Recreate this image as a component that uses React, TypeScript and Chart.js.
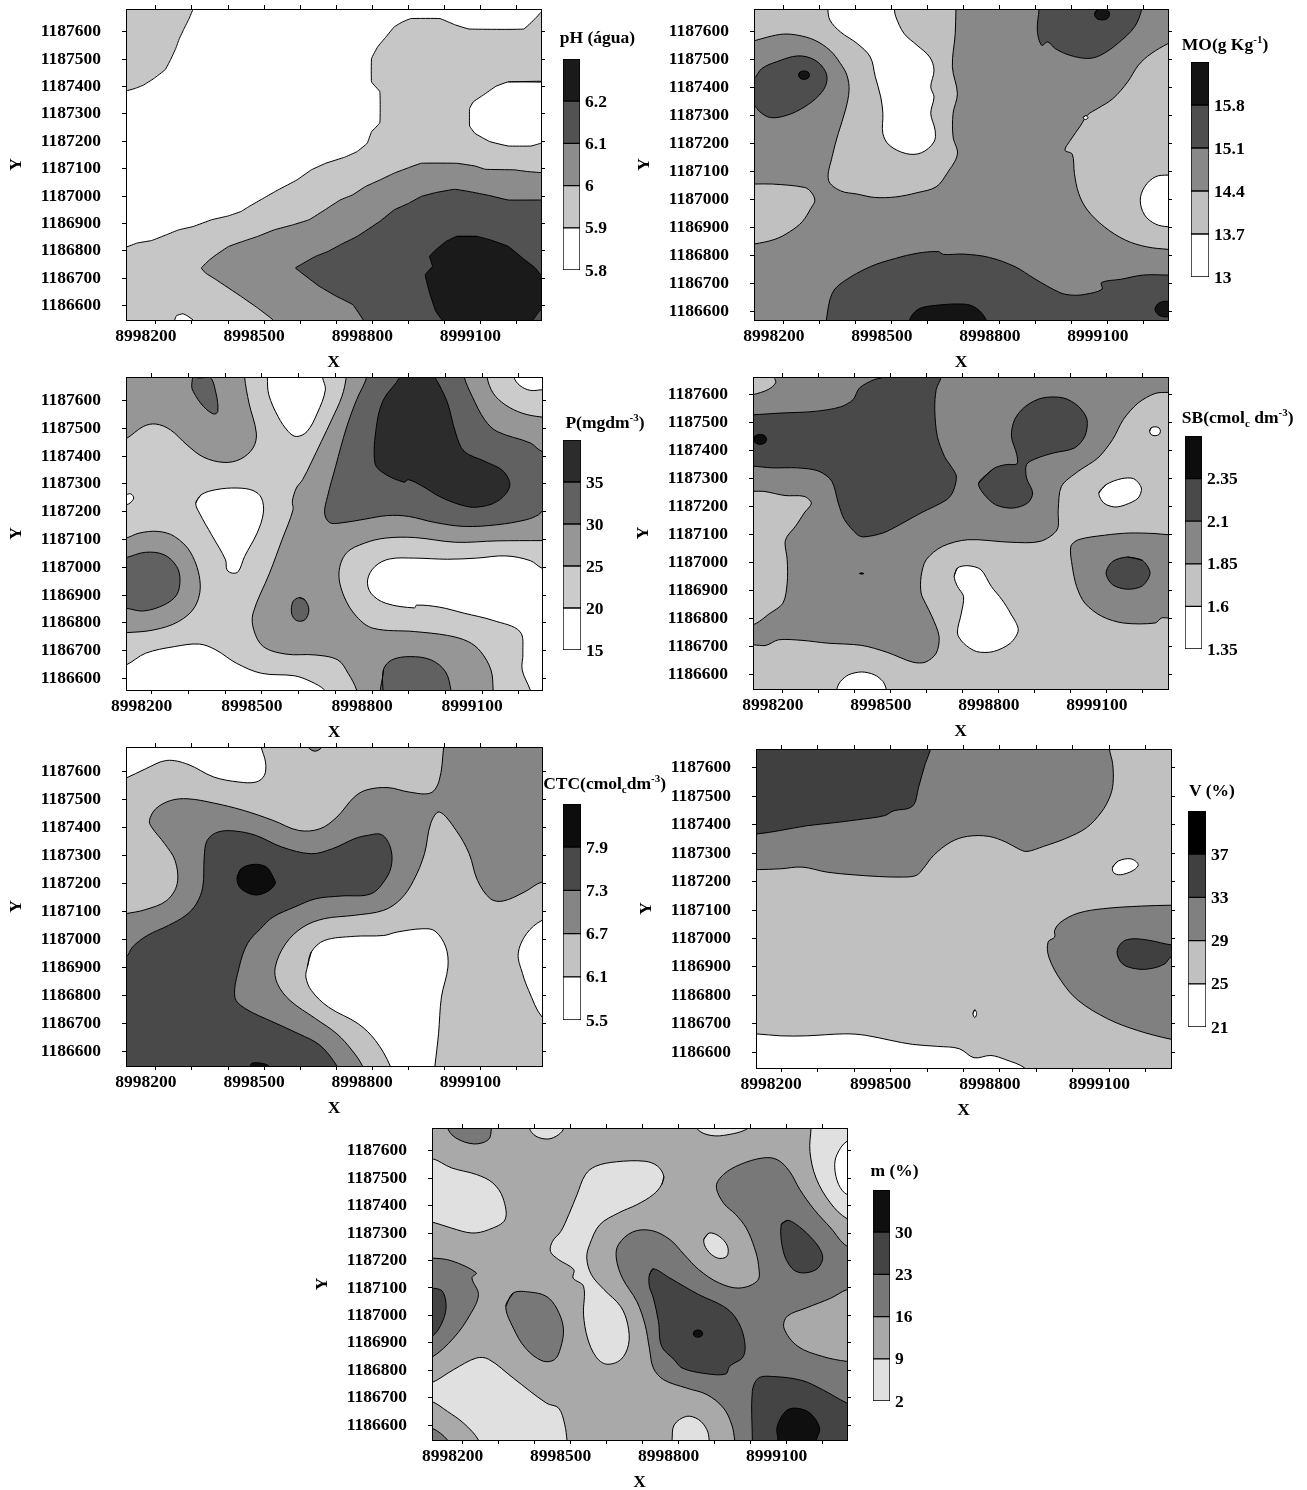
import React, { useEffect, useRef } from "react";
import { Chart, registerables } from "chart.js";
Chart.register(...registerables);

const XB = 8998000;
const YB = 1186000;
const xTickValues = [200, 300, 400, 500, 600, 700, 800, 900, 1000, 1100, 1200];
const xTickLabels = [8998200, 8998500, 8998800, 8999100];
const yTickValues = [600, 700, 800, 900, 1000, 1100, 1200, 1300, 1400, 1500, 1600];

// ---- pH ----
const phLevels = [5.8, 5.9, 6, 6.1, 6.2, 6.3];
const phGreys = ["#ffffff", "#c6c6c6", "#8c8c8c", "#525252", "#1a1a1a"];
const phShapes: [number, number[]][] = [
  [1, [60, 1378, 100, 1378, 142, 1393, 165, 1405, 194, 1429, 226, 1462, 240, 1496, 255, 1539, 265, 1575, 278, 1611, 292, 1648, 303, 1683, 306, 1720, 60, 1720]],
  [1, [60, 814, 117, 814, 148, 829, 188, 838, 229, 859, 263, 877, 303, 889, 355, 914, 401, 928, 436, 944, 458, 962, 499, 993, 539, 1023, 591, 1059, 631, 1096, 671, 1120, 723, 1142, 757, 1162, 786, 1193, 798, 1235, 821, 1268, 821, 1381, 798, 1417, 798, 1502, 815, 1545, 838, 1581, 861, 1618, 884, 1636, 907, 1648, 988, 1648, 1028, 1626, 1068, 1610, 1220, 1610, 1252, 1648, 1268, 1671, 1300, 1700, 1330, 1700, 1330, 500, 60, 500]],
  [0, [1330, 1415, 1177, 1417, 1143, 1401, 1108, 1369, 1080, 1344, 1070, 1320, 1070, 1256, 1085, 1229, 1126, 1199, 1177, 1183, 1241, 1183, 1268, 1193, 1330, 1200]],
  [0, [252, 530, 252, 548, 257, 564, 275, 571, 286, 564, 303, 548, 303, 530]],
  [2, [1330, 1086, 1268, 1086, 1229, 1090, 1194, 1096, 1114, 1098, 1085, 1110, 1034, 1120, 936, 1120, 901, 1104, 861, 1084, 821, 1059, 781, 1035, 746, 1005, 711, 986, 671, 952, 625, 914, 579, 895, 528, 877, 482, 853, 441, 835, 401, 816, 367, 786, 349, 768, 326, 738, 338, 719, 367, 695, 435, 635, 482, 592, 525, 548, 540, 500, 1330, 500]],
  [3, [1330, 986, 1268, 986, 1177, 986, 1126, 1002, 1068, 1017, 1028, 1025, 976, 1013, 936, 999, 901, 974, 861, 950, 821, 908, 758, 853, 712, 823, 677, 798, 642, 780, 602, 750, 587, 738, 598, 726, 653, 671, 700, 635, 746, 604, 775, 548, 790, 500, 1330, 500]],
  [4, [1034, 853, 1091, 853, 1126, 841, 1177, 817, 1217, 774, 1252, 738, 1268, 713, 1330, 680, 1330, 540, 1268, 586, 1246, 548, 1240, 520, 990, 520, 993, 548, 976, 580, 959, 647, 947, 713, 967, 744, 959, 780, 976, 804, 1005, 835]],
];

// ---- MO ----
const moLevels = [13, 13.7, 14.4, 15.1, 15.8, 16.5];
const moGreys = ["#ffffff", "#c0c0c0", "#888888", "#4e4e4e", "#141414"];
const moShapes: [number, number[]][] = [
  [1, [80, 1560, 117, 1568, 156, 1582, 198, 1592, 239, 1588, 286, 1570, 328, 1534, 357, 1487, 375, 1445, 381, 1391, 371, 1320, 351, 1236, 334, 1153, 324, 1069, 357, 1031, 404, 1019, 452, 1007, 511, 1009, 570, 1024, 623, 1045, 653, 1093, 682, 1162, 670, 1224, 670, 1308, 682, 1379, 668, 1475, 676, 1594, 678, 1682, 680, 1720, 80, 1720]],
  [0, [322, 1720, 322, 1682, 328, 1642, 357, 1600, 404, 1558, 440, 1510, 454, 1439, 469, 1367, 475, 1308, 475, 1236, 493, 1194, 540, 1164, 582, 1167, 617, 1206, 620, 1248, 608, 1308, 617, 1367, 608, 1403, 617, 1463, 605, 1510, 570, 1552, 534, 1594, 511, 1654, 507, 1682, 507, 1720]],
  [1, [80, 1055, 117, 1055, 168, 1055, 257, 1043, 275, 1027, 286, 997, 275, 968, 251, 920, 216, 884, 175, 857, 117, 840, 80, 835]],
  [1, [1320, 1590, 1267, 1558, 1220, 1522, 1185, 1481, 1155, 1421, 1114, 1361, 1072, 1326, 1043, 1302, 1025, 1266, 996, 1212, 981, 1176, 1001, 1162, 1007, 1093, 1019, 1021, 1043, 962, 1090, 902, 1149, 854, 1208, 830, 1267, 821, 1320, 815]],
  [0, [1320, 1087, 1267, 1087, 1232, 1081, 1202, 1045, 1190, 997, 1202, 944, 1232, 912, 1267, 902, 1320, 902]],
  [0, [1031, 1293, 1038, 1300, 1045, 1293, 1038, 1286]],
  [3, [909, 1720, 909, 1682, 904, 1606, 916, 1552, 933, 1564, 954, 1540, 995, 1516, 1044, 1505, 1079, 1516, 1127, 1558, 1174, 1618, 1194, 1682, 1194, 1720]],
  [3, [90, 1420, 117, 1433, 139, 1469, 180, 1493, 239, 1514, 286, 1499, 316, 1457, 318, 1415, 298, 1373, 257, 1331, 210, 1302, 163, 1293, 133, 1314, 117, 1337, 90, 1345]],
  [3, [318, 530, 318, 568, 334, 663, 365, 705, 440, 759, 511, 789, 570, 807, 629, 813, 643, 803, 700, 804, 771, 792, 842, 759, 895, 717, 967, 666, 1001, 657, 1037, 660, 1084, 678, 1082, 702, 1137, 714, 1198, 729, 1267, 729, 1320, 729, 1320, 530]],
  [4, [549, 530, 549, 568, 570, 604, 605, 618, 700, 625, 735, 610, 762, 568, 762, 530]],
  [4, [1063, 1663, 1069, 1678, 1084, 1683, 1099, 1678, 1105, 1663, 1099, 1648, 1084, 1643, 1069, 1648]],
  [4, [241, 1445, 245, 1456, 256, 1460, 267, 1456, 271, 1445, 267, 1434, 256, 1430, 245, 1434]],
  [4, [1231, 607, 1240, 627, 1261, 635, 1282, 627, 1291, 607, 1282, 587, 1261, 579, 1240, 587]],
];

// ---- P ----
const pLevels = [15, 20, 25, 30, 35, 40];
const pGreys = ["#ffffff", "#cbcbcb", "#969696", "#616161", "#2c2c2c"];
const pShapes: [number, number[]][] = [
  [0, [515, 1720, 515, 1684, 519, 1620, 544, 1542, 572, 1488, 594, 1470, 623, 1488, 651, 1554, 673, 1638, 665, 1684, 665, 1720]],
  [0, [320, 1231, 335, 1261, 375, 1279, 432, 1285, 476, 1276, 499, 1249, 504, 1195, 487, 1123, 453, 1039, 436, 985, 420, 979, 405, 991, 401, 1027, 363, 1117, 330, 1195]],
  [0, [110, 1261, 130, 1261, 143, 1264, 151, 1249, 141, 1231, 130, 1225, 110, 1225]],
  [0, [1186, 1720, 1186, 1684, 1203, 1653, 1231, 1636, 1263, 1638, 1300, 1638, 1300, 1720]],
  [0, [90, 640, 130, 649, 183, 691, 262, 715, 330, 724, 375, 703, 431, 655, 499, 619, 589, 610, 634, 589, 671, 559, 680, 530, 90, 530]],
  [0, [1310, 985, 1263, 997, 1231, 1024, 1164, 1041, 1085, 1033, 1006, 1029, 916, 1033, 848, 1030, 808, 1003, 788, 955, 797, 907, 837, 871, 916, 854, 921, 864, 983, 857, 1051, 835, 1130, 809, 1203, 769, 1211, 691, 1209, 631, 1231, 559, 1235, 530, 1310, 530]],
  [2, [100, 1450, 130, 1462, 177, 1506, 211, 1515, 251, 1494, 296, 1440, 341, 1396, 397, 1377, 442, 1389, 476, 1429, 485, 1482, 465, 1590, 453, 1684, 455, 1720, 100, 1720]],
  [2, [100, 1100, 130, 1105, 166, 1123, 217, 1129, 262, 1111, 307, 1051, 332, 943, 318, 859, 273, 805, 206, 775, 130, 765, 100, 765]],
  [2, [730, 1720, 730, 1684, 718, 1614, 690, 1530, 662, 1452, 634, 1375, 611, 1315, 594, 1285, 583, 1237, 585, 1207, 555, 1099, 521, 979, 476, 835, 478, 775, 504, 715, 566, 688, 645, 685, 707, 667, 735, 619, 758, 559, 760, 520, 1130, 520, 1130, 559, 1124, 631, 1096, 697, 1062, 733, 1006, 755, 916, 769, 803, 781, 758, 823, 724, 895, 710, 979, 730, 1051, 780, 1087, 837, 1105, 916, 1107, 1028, 1090, 1141, 1095, 1263, 1096, 1300, 1096, 1300, 1540, 1263, 1540, 1209, 1554, 1163, 1584, 1130, 1626, 1113, 1684, 1113, 1720]],
  [3, [318, 1720, 318, 1684, 358, 1684, 375, 1626, 380, 1560, 369, 1551, 341, 1578, 313, 1632, 309, 1656]],
  [3, [100, 1030, 130, 1035, 183, 1054, 234, 1045, 268, 1003, 277, 955, 268, 901, 234, 865, 177, 843, 130, 853, 100, 855]],
  [3, [602, 891, 617, 883, 628, 847, 617, 811, 594, 809, 581, 835, 585, 877]],
  [3, [786, 1720, 786, 1684, 758, 1602, 730, 1500, 701, 1363, 679, 1255, 671, 1195, 684, 1161, 713, 1159, 780, 1173, 842, 1186, 899, 1183, 972, 1161, 1051, 1147, 1141, 1153, 1220, 1171, 1254, 1189, 1263, 1201, 1300, 1210, 1300, 1420, 1263, 1417, 1231, 1447, 1141, 1488, 1107, 1530, 1073, 1614, 1051, 1684, 1051, 1720]],
  [3, [831, 530, 831, 631, 854, 667, 904, 679, 961, 667, 1000, 625, 1015, 559, 1015, 530]],
  [4, [876, 1720, 876, 1684, 831, 1602, 812, 1506, 808, 1375, 831, 1339, 887, 1306, 899, 1315, 938, 1291, 983, 1255, 1040, 1225, 1085, 1216, 1141, 1237, 1175, 1291, 1158, 1345, 1107, 1381, 1051, 1417, 1028, 1482, 1006, 1590, 983, 1656, 972, 1684, 972, 1720]],
];

// ---- SB ----
const sbLevels = [1.35, 1.6, 1.85, 2.1, 2.35, 2.6];
const sbGreys = ["#ffffff", "#c2c2c2", "#868686", "#494949", "#0d0d0d"];
const sbShapes: [number, number[]][] = [
  [1, [80, 1700, 176, 1700, 176, 1663, 180, 1642, 159, 1618, 117, 1600, 80, 1595]],
  [1, [80, 1254, 117, 1254, 147, 1254, 206, 1239, 259, 1236, 279, 1212, 259, 1176, 235, 1129, 212, 1093, 206, 1069, 212, 1009, 212, 926, 200, 854, 159, 813, 135, 789, 117, 777, 80, 770]],
  [1, [80, 705, 117, 705, 153, 703, 188, 723, 253, 721, 324, 711, 419, 703, 490, 678, 561, 643, 596, 643, 626, 675, 634, 735, 614, 807, 596, 854, 584, 890, 584, 950, 598, 1009, 643, 1057, 714, 1081, 832, 1072, 915, 1075, 962, 1117, 965, 1189, 974, 1272, 1021, 1326, 1075, 1373, 1116, 1439, 1146, 1511, 1187, 1570, 1234, 1604, 1270, 1608, 1310, 1608, 1310, 500, 80, 500]],
  [0, [350, 520, 350, 547, 360, 574, 383, 598, 419, 608, 454, 598, 478, 574, 487, 547, 487, 520]],
  [0, [676, 950, 685, 980, 714, 988, 750, 974, 779, 914, 809, 866, 832, 819, 854, 759, 832, 711, 785, 681, 738, 681, 702, 711, 685, 747, 696, 819, 702, 878, 685, 914]],
  [0, [1078, 1248, 1098, 1278, 1140, 1299, 1175, 1299, 1196, 1266, 1187, 1230, 1152, 1206, 1122, 1198, 1092, 1212]],
  [0, [1219, 1469, 1223, 1481, 1234, 1485, 1245, 1481, 1249, 1469, 1245, 1457, 1234, 1453, 1223, 1457]],
  [3, [80, 1528, 117, 1528, 194, 1534, 289, 1540, 360, 1556, 395, 1582, 413, 1624, 454, 1654, 478, 1663, 480, 1700, 640, 1700, 640, 1663, 626, 1618, 622, 1546, 629, 1451, 649, 1379, 667, 1344, 682, 1308, 673, 1254, 655, 1224, 584, 1177, 525, 1135, 478, 1105, 425, 1091, 407, 1099, 371, 1153, 354, 1212, 336, 1290, 300, 1326, 241, 1338, 170, 1338, 117, 1344, 80, 1344]],
  [3, [744, 1284, 785, 1335, 821, 1350, 850, 1352, 850, 1385, 835, 1451, 844, 1511, 874, 1558, 921, 1588, 980, 1588, 1021, 1558, 1045, 1511, 1039, 1451, 1010, 1409, 951, 1391, 903, 1371, 877, 1350, 877, 1302, 894, 1248, 880, 1212, 838, 1194, 791, 1206, 756, 1248]],
  [2, [1310, 1099, 1270, 1099, 1234, 1103, 1163, 1105, 1093, 1097, 1021, 1081, 1000, 1057, 1004, 986, 1016, 914, 1039, 854, 1086, 807, 1146, 783, 1234, 783, 1252, 801, 1270, 801, 1310, 801]],
  [3, [1157, 1019, 1199, 1007, 1220, 962, 1199, 916, 1157, 904, 1116, 920, 1098, 962, 1116, 1003]],
  [4, [119, 1440, 124, 1453, 137, 1458, 150, 1453, 155, 1440, 150, 1427, 137, 1422, 124, 1427]],
  [4, [413, 960, 419, 962, 425, 960, 419, 958]],
];

// ---- CTC ----
const ctcLevels = [5.5, 6.1, 6.7, 7.3, 7.9, 8.5];
const ctcGreys = ["#ffffff", "#c2c2c2", "#858585", "#494949", "#0d0d0d"];
const ctcShapes: [number, number[]][] = [
  [0, [80, 1560, 117, 1575, 171, 1608, 230, 1638, 289, 1624, 360, 1579, 430, 1561, 478, 1561, 501, 1585, 504, 1632, 492, 1686, 490, 1720, 80, 1720]],
  [0, [620, 900, 631, 954, 667, 995, 750, 1010, 832, 1013, 868, 1025, 939, 1037, 974, 1029, 1004, 972, 1010, 900, 992, 793, 984, 662, 974, 547, 972, 520, 848, 520, 850, 547, 809, 638, 761, 698, 679, 757, 631, 817, 616, 865]],
  [0, [1310, 1075, 1271, 1067, 1228, 1019, 1205, 948, 1217, 877, 1234, 817, 1271, 722, 1310, 700]],
  [2, [90, 1085, 117, 1091, 170, 1105, 230, 1138, 259, 1198, 253, 1281, 224, 1341, 188, 1400, 182, 1424, 200, 1466, 241, 1495, 289, 1501, 360, 1486, 442, 1460, 525, 1424, 596, 1388, 655, 1394, 702, 1436, 750, 1507, 785, 1533, 844, 1541, 903, 1525, 962, 1522, 986, 1567, 998, 1683, 1000, 1720, 1310, 1720, 1310, 1200, 1271, 1204, 1222, 1168, 1163, 1136, 1128, 1144, 1092, 1210, 1069, 1305, 1033, 1388, 986, 1454, 962, 1412, 945, 1305, 915, 1210, 880, 1144, 832, 1103, 750, 1085, 667, 1073, 608, 1043, 560, 984, 531, 900, 537, 841, 572, 781, 643, 716, 702, 662, 744, 603, 773, 547, 775, 520, 90, 520]],
  [2, [622, 1710, 622, 1686, 641, 1671, 661, 1686, 661, 1710]],
  [3, [80, 930, 117, 936, 135, 972, 176, 1013, 235, 1049, 283, 1085, 312, 1126, 330, 1186, 334, 1293, 342, 1352, 371, 1382, 419, 1386, 478, 1370, 549, 1329, 631, 1305, 690, 1323, 750, 1358, 785, 1370, 826, 1373, 850, 1329, 854, 1269, 838, 1216, 797, 1162, 714, 1154, 643, 1144, 584, 1114, 525, 1079, 490, 1037, 454, 984, 431, 900, 419, 793, 448, 752, 525, 704, 596, 662, 655, 621, 702, 547, 705, 520, 80, 520]],
  [4, [425, 1216, 436, 1251, 472, 1267, 507, 1257, 525, 1222, 531, 1198, 507, 1168, 474, 1158, 436, 1180]],
  [4, [462, 530, 462, 547, 466, 557, 492, 557, 513, 547, 513, 530]],
];

// ---- V ----
const vLevels = [21, 25, 29, 33, 37, 41];
const vGreys = ["#ffffff", "#c0c0c0", "#808080", "#404040", "#000000"];
const vShapes: [number, number[]][] = [
  [2, [90, 1242, 131, 1242, 199, 1245, 257, 1251, 327, 1233, 397, 1224, 467, 1218, 536, 1216, 571, 1222, 589, 1245, 618, 1292, 665, 1339, 711, 1359, 769, 1359, 816, 1339, 851, 1315, 874, 1306, 920, 1324, 979, 1351, 1037, 1389, 1078, 1444, 1101, 1497, 1110, 1544, 1109, 1614, 1100, 1666, 1100, 1700, 90, 1700]],
  [3, [90, 1367, 131, 1367, 199, 1380, 269, 1396, 339, 1406, 408, 1417, 484, 1432, 507, 1448, 560, 1465, 577, 1532, 595, 1614, 610, 1666, 612, 1700, 90, 1700]],
  [0, [1109, 1251, 1124, 1272, 1159, 1280, 1179, 1260, 1165, 1239, 1130, 1224, 1112, 1231]],
  [0, [726, 736, 731, 750, 736, 736, 731, 722]],
  [0, [90, 665, 131, 665, 199, 658, 269, 658, 374, 665, 431, 660, 501, 642, 560, 628, 629, 621, 688, 613, 729, 581, 775, 589, 816, 574, 868, 545, 870, 520, 90, 520]],
  [2, [1310, 1117, 1269, 1117, 1188, 1114, 1084, 1105, 1014, 1089, 967, 1058, 950, 1029, 950, 1005, 932, 988, 934, 935, 967, 853, 1014, 783, 1095, 718, 1177, 677, 1269, 646, 1310, 640]],
  [3, [1310, 978, 1269, 978, 1212, 993, 1165, 999, 1136, 988, 1121, 952, 1136, 911, 1171, 894, 1212, 894, 1252, 911, 1269, 935, 1310, 935]],
];

// ---- m ----
const mLevels = [2, 9, 16, 23, 30, 37];
const mGreys = ["#e0e0e0", "#a9a9a9", "#787878", "#444444", "#0f0f0f"];
const mWhite = "#ffffff";
const mShapes: [number, number[]][] = [
  [0, [1168, 1720, 1168, 1682, 1165, 1597, 1182, 1500, 1222, 1409, 1268, 1352, 1310, 1340, 1310, 1720]],
  [-1, [1300, 1634, 1268, 1634, 1240, 1585, 1234, 1537, 1245, 1476, 1268, 1440, 1300, 1440]],
  [0, [385, 1720, 385, 1682, 404, 1652, 438, 1642, 467, 1658, 481, 1682, 481, 1720]],
  [0, [850, 1720, 850, 1682, 879, 1658, 925, 1655, 994, 1682, 994, 1720]],
  [0, [80, 1565, 115, 1571, 169, 1537, 238, 1513, 284, 1482, 312, 1428, 318, 1349, 272, 1312, 226, 1300, 169, 1318, 115, 1340, 80, 1345]],
  [0, [80, 750, 115, 756, 175, 803, 238, 845, 272, 841, 341, 772, 433, 681, 467, 663, 484, 602, 490, 547, 492, 520, 240, 520, 244, 547, 203, 608, 158, 651, 115, 687, 80, 695]],
  [0, [759, 1506, 753, 1476, 730, 1440, 684, 1403, 633, 1373, 581, 1330, 553, 1258, 545, 1209, 558, 1148, 593, 1094, 639, 1033, 659, 966, 661, 894, 639, 839, 599, 823, 570, 851, 547, 918, 536, 1003, 536, 1106, 507, 1136, 509, 1167, 467, 1203, 444, 1233, 450, 1270, 473, 1306, 495, 1367, 518, 1440, 541, 1512, 570, 1543, 627, 1559, 707, 1561, 742, 1543]],
  [0, [870, 1276, 885, 1300, 913, 1288, 936, 1252, 934, 1215, 908, 1209, 879, 1239]],
  [0, [782, 520, 782, 547, 788, 602, 822, 633, 856, 621, 879, 584, 885, 547, 885, 520]],
  [2, [158, 1720, 158, 1682, 181, 1646, 232, 1624, 272, 1640, 280, 1682, 280, 1720]],
  [2, [80, 1209, 115, 1209, 169, 1199, 238, 1155, 226, 1136, 244, 1076, 221, 1003, 175, 918, 115, 848, 80, 840]],
  [2, [320, 1033, 341, 1082, 387, 1085, 432, 1070, 461, 1027, 480, 954, 472, 881, 455, 839, 421, 835, 375, 881, 341, 954]],
  [2, [80, 590, 115, 590, 158, 547, 160, 520, 80, 520]],
  [2, [1310, 1252, 1268, 1252, 1223, 1318, 1177, 1385, 1137, 1458, 1108, 1525, 1074, 1567, 1034, 1573, 971, 1549, 925, 1513, 905, 1470, 925, 1409, 959, 1367, 988, 1318, 1011, 1246, 1022, 1185, 1020, 1128, 971, 1100, 913, 1118, 856, 1167, 816, 1221, 776, 1276, 725, 1309, 673, 1304, 633, 1258, 627, 1209, 644, 1136, 684, 1051, 707, 966, 719, 881, 730, 809, 759, 766, 822, 736, 879, 712, 925, 663, 948, 602, 956, 547, 958, 520, 1310, 520, 1310, 833, 1268, 833, 1200, 851, 1131, 888, 1093, 954, 1102, 997, 1154, 1027, 1223, 1063, 1268, 1094, 1310, 1100]],
  [3, [1085, 1330, 1102, 1346, 1125, 1333, 1165, 1288, 1194, 1239, 1200, 1203, 1182, 1167, 1142, 1155, 1114, 1173, 1091, 1233]],
  [3, [719, 1148, 730, 1170, 776, 1136, 856, 1076, 925, 1033, 959, 991, 982, 918, 980, 851, 942, 815, 931, 787, 868, 790, 810, 809, 788, 839, 753, 888, 744, 979, 730, 1064, 719, 1106]],
  [3, [80, 1105, 115, 1100, 144, 1088, 154, 1027, 140, 966, 115, 924, 80, 915]],
  [3, [1005, 520, 1005, 547, 1005, 724, 1022, 772, 1062, 778, 1142, 764, 1200, 730, 1268, 681, 1310, 660, 1310, 520]],
  [4, [841, 934, 845, 944, 854, 947, 863, 944, 867, 934, 863, 924, 854, 921, 845, 924]],
  [4, [1076, 520, 1076, 547, 1074, 596, 1097, 651, 1125, 663, 1165, 645, 1192, 590, 1183, 547, 1183, 520]],
];

// ---- page layout (styles only) ----
type Box = [number, number, number, number];
interface PanelDef {
  plot: Box; bar: Box; xr: [number, number]; yr: [number, number];
  levels: number[]; greys: string[]; shapes: [number, number[]][];
  base: number; tension: number; title: React.ReactNode; tx: number; ty: number;
}
const FONT = "'Liberation Serif', 'Times New Roman', serif";
const S = { fontSize: 11, lineHeight: 0 } as React.CSSProperties;

const panels: PanelDef[] = [
  { plot: [126, 9, 541, 320], bar: [563, 59, 580, 270], xr: [117, 1268], yr: [548, 1683], levels: phLevels, greys: phGreys, shapes: phShapes, base: 0, tension: 0.08, title: "pH (água)", tx: 597.5, ty: 37 },
  { plot: [754, 9, 1168, 320], bar: [1191, 62, 1209, 277], xr: [117, 1267], yr: [568, 1682], levels: moLevels, greys: moGreys, shapes: moShapes, base: 2, tension: 0.35, title: <>MO(g Kg<sup style={S}>-1</sup>)</>, tx: 1225, ty: 44 },
  { plot: [126, 377, 542, 690], bar: [563, 440, 581, 650], xr: [130, 1263], yr: [559, 1684], levels: pLevels, greys: pGreys, shapes: pShapes, base: 1, tension: 0.35, title: <>P(mgdm<sup style={S}>-3</sup>)</>, tx: 605, ty: 422 },
  { plot: [753, 377, 1168, 689], bar: [1185, 436, 1202, 649], xr: [117, 1270], yr: [547, 1663], levels: sbLevels, greys: sbGreys, shapes: sbShapes, base: 2, tension: 0.3, title: <>SB(cmol<sub style={S}>c</sub> dm<sup style={S}>-3</sup>)</>, tx: 1237.7, ty: 416.7 },
  { plot: [126, 747, 542, 1066], bar: [563, 804, 581, 1020], xr: [117, 1271], yr: [547, 1686], levels: ctcLevels, greys: ctcGreys, shapes: ctcShapes, base: 1, tension: 0.35, title: <>CTC(cmol<sub style={S}>c</sub>dm<sup style={S}>-3</sup>)</>, tx: 604.6, ty: 783 },
  { plot: [756, 749, 1171, 1068], bar: [1188, 811, 1206, 1027], xr: [131, 1269], yr: [545, 1666], levels: vLevels, greys: vGreys, shapes: vShapes, base: 1, tension: 0.35, title: "V (%)", tx: 1212, ty: 790 },
  { plot: [432, 1128, 847, 1440], bar: [873, 1190, 890, 1401], xr: [115, 1268], yr: [547, 1682], levels: mLevels, greys: mGreys, shapes: mShapes, base: 1, tension: 0.35, title: "m (%)", tx: 894.5, ty: 1170 },
];

const LEFT = 122, TOP = 32, RIGHT = 8, BOTTOM = 56, BARPAD = 16;
const tickFont = { family: FONT, size: 17.5, weight: "bold" as const };

function closed(a: number[]) {
  const p: { x: number; y: number }[] = [];
  for (let i = 0; i + 1 < a.length; i += 2) p.push({ x: XB + a[i], y: YB + a[i + 1] });
  return [...p, p[0], p[1]];
}

function Panel({ d }: { d: PanelDef }) {
  const mainRef = useRef<HTMLCanvasElement>(null);
  const barRef = useRef<HTMLCanvasElement>(null);
  const [l, t, r, b] = d.plot;
  const [bl, bt, br, bb] = d.bar;
  useEffect(() => {
    const xmin = XB + d.xr[0], xmax = XB + d.xr[1], ymin = YB + d.yr[0], ymax = YB + d.yr[1];
    const xt = () => xTickValues.map((v) => ({ value: XB + v }));
    const yt = () => yTickValues.map((v) => ({ value: YB + v }));
    const marks = { display: true, drawOnChartArea: false, drawTicks: true, tickLength: 4, color: "#000", tickWidth: 1, z: 1 };
    const frame = { display: true, color: "#000", width: 1, z: 1 };
    const painted = [
      { data: closed([d.xr[0] - 50, d.yr[0] - 50, d.xr[1] + 50, d.yr[0] - 50, d.xr[1] + 50, d.yr[1] + 50, d.xr[0] - 50, d.yr[1] + 50]), backgroundColor: d.greys[d.base], borderWidth: 0, tension: 0 },
      ...d.shapes.map(([lev, pts]) => ({
        data: closed(pts),
        backgroundColor: lev < 0 ? mWhite : d.greys[lev],
        borderColor: "#000",
        borderWidth: 1,
        tension: d.tension,
      })),
    ].map((s) => ({ ...s, showLine: true, fill: "shape", pointRadius: 0, pointHoverRadius: 0 }));
    const main = new Chart(mainRef.current!, {
      type: "scatter",
      data: { datasets: painted.reverse() as any },
      options: {
        animation: false, responsive: false, events: [],
        layout: { padding: 0 },
        plugins: { legend: { display: false }, tooltip: { enabled: false } },
        scales: {
          x: {
            type: "linear", position: "bottom", min: xmin, max: xmax, grid: marks, border: frame,
            afterBuildTicks: (s: any) => { s.ticks = xt(); },
            afterFit: (s: any) => { s.height = BOTTOM; },
            ticks: {
              autoSkip: false, maxRotation: 0, minRotation: 0, padding: 2, labelOffset: -10, color: "#000", font: tickFont,
              callback: (v: any) => (xTickLabels.includes(Number(v)) ? String(v) : ""),
            },
            title: { display: true, text: "X", color: "#000", font: tickFont, padding: { top: 0, bottom: 3 } },
          },
          y: {
            type: "linear", position: "left", min: ymin, max: ymax, grid: marks, border: frame,
            afterBuildTicks: (s: any) => { s.ticks = yt(); },
            afterFit: (s: any) => { s.width = LEFT; },
            ticks: { autoSkip: false, padding: 21, color: "#000", font: tickFont, callback: (v: any) => String(v) },
            title: { display: true, text: "Y", color: "#000", font: tickFont, padding: { top: 2, bottom: 0 } },
          },
          x2: {
            type: "linear", axis: "x", position: "top", min: xmin, max: xmax, grid: marks, border: frame,
            afterBuildTicks: (s: any) => { s.ticks = xt(); },
            afterFit: (s: any) => { s.height = TOP; },
            ticks: { display: false },
          },
          y2: {
            type: "linear", axis: "y", position: "right", min: ymin, max: ymax, grid: marks, border: frame,
            afterBuildTicks: (s: any) => { s.ticks = yt(); },
            afterFit: (s: any) => { s.width = RIGHT; },
            ticks: { display: false },
          },
        } as any,
      },
    });
    const bands = d.greys.map((g, i) => ({
      data: [[d.levels[i], d.levels[i + 1]]],
      backgroundColor: g, borderColor: "#000", borderWidth: 1, borderSkipped: false, stack: "scale",
      barPercentage: 1, categoryPercentage: 1,
    }));
    const bar = new Chart(barRef.current!, {
      type: "bar",
      data: { labels: ["levels"], datasets: bands as any },
      options: {
        animation: false, responsive: false, events: [],
        layout: { padding: { left: 2, top: BARPAD, bottom: BARPAD, right: 0 } },
        plugins: { legend: { display: false }, tooltip: { enabled: false } },
        scales: {
          x: { display: false, stacked: true },
          y: {
            position: "right", stacked: false, min: d.levels[0], max: d.levels[d.levels.length - 1],
            grid: { display: false, drawTicks: false }, border: { display: false },
            afterBuildTicks: (s: any) => { s.ticks = d.levels.slice(0, -1).map((v) => ({ value: v })); },
            afterFit: (s: any) => { s.width = 50; },
            ticks: { autoSkip: false, padding: 5, color: "#000", font: tickFont, labelOffset: 1, callback: (v: any) => String(v) } as any,
          },
        },
      },
    });
    return () => { main.destroy(); bar.destroy(); };
  }, [d]);
  const abs = { position: "absolute", display: "block" } as React.CSSProperties;
  return (
    <>
      <canvas ref={mainRef} width={r - l + LEFT + RIGHT} height={b - t + TOP + BOTTOM} style={{ ...abs, left: l - LEFT, top: t - TOP }} />
      <canvas ref={barRef} width={br - bl + 52} height={bb - bt + 2 * BARPAD} style={{ ...abs, left: bl - 2, top: bt - BARPAD }} />
      <div style={{ position: "absolute", left: d.tx, top: d.ty, transform: "translate(-50%,-50%)", whiteSpace: "nowrap", font: `bold 17.5px ${FONT}`, color: "#000" }}>{d.title}</div>
    </>
  );
}

export default function App() {
  return (
    <div style={{ position: "absolute", left: 0, top: 0, width: 1307, height: 1490, overflow: "hidden", background: "#fff" }}>
      {panels.map((d, i) => <Panel key={i} d={d} />)}
    </div>
  );
}
